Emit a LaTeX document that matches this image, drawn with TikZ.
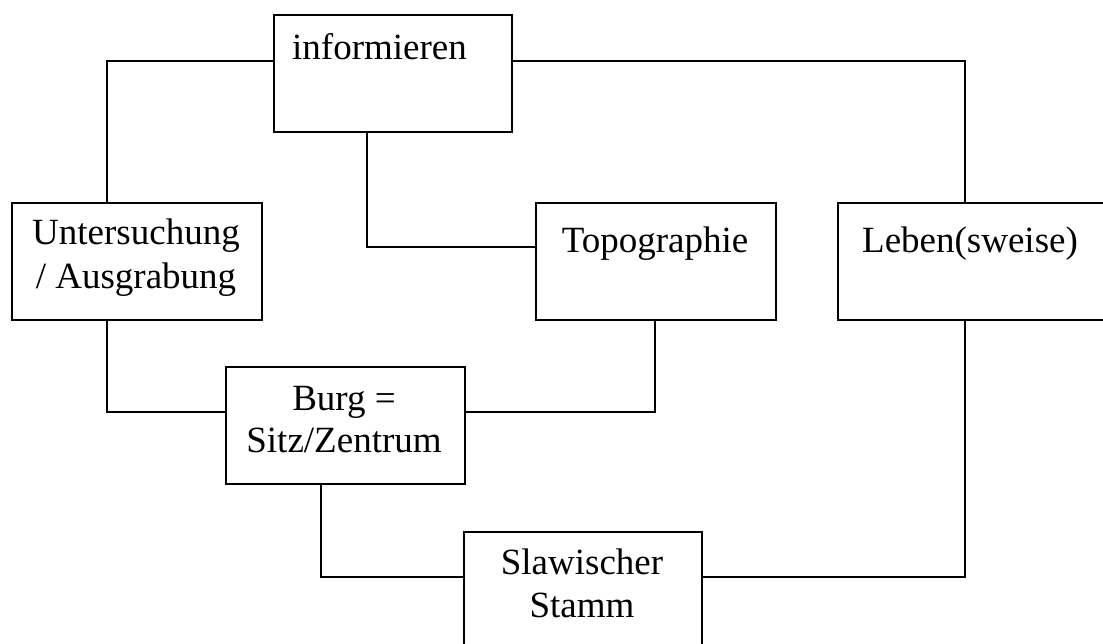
\documentclass[tikz,border=0pt]{standalone}
\usepackage{fontspec}
\setmainfont{Liberation Serif}
\begin{document}
\begin{tikzpicture}[x=1pt,y=-1pt,
  box/.style={draw=black,line width=1.8pt,rectangle,inner sep=0pt,anchor=north west},
  conn/.style={draw=black,line width=1.2pt},
  lbl/.style={font=\fontsize{37}{44}\selectfont,inner sep=0pt,align=center}]
\useasboundingbox (0,0) rectangle (1103,644);
% boxes
\node[box,minimum width=238pt,minimum height=117pt] (inf) at (273,14) {};
\node[box,minimum width=250pt,minimum height=117pt] (unt) at (11,202) {};
\node[box,minimum width=240pt,minimum height=117pt] (top) at (535,202) {};
\node[box,minimum width=268pt,minimum height=117pt] (leb) at (837,202) {};
\node[box,minimum width=239pt,minimum height=117pt] (burg) at (225,366) {};
\node[box,minimum width=238pt,minimum height=117pt] (sla) at (463,531) {};
% labels
\node[lbl,anchor=base west] (tinf) at (292,60) {informieren};
\node[lbl,anchor=base] (tunt) at (136,245) {Untersuchung};
\node[lbl,anchor=base] (tunt2) at (136,289) {/ Ausgrabung};
\node[lbl,anchor=base] (ttop) at (655,253) {Topographie};
\node[lbl,anchor=base] (tleb) at (970,253) {Leben(sweise)};
\node[lbl,anchor=base] (tburg) at (344,410) {Burg =};
\node[lbl,anchor=base] (tburg2) at (344,452) {Sitz/Zentrum};
\node[lbl,anchor=base] (tsla) at (582,574) {Slawischer};
\node[lbl,anchor=base] (tsla2) at (582,617) {Stamm};
% connectors
\draw[conn] (inf.west |- 0,61) -| (unt.north -| 107,0);
\draw[conn] (inf.east |- 0,61) -| (leb.north -| 965,0);
\draw[conn] (inf.south -| 367,0) |- (top.west |- 0,247);
\draw[conn] (unt.south -| 107,0) |- (burg.west |- 0,412);
\draw[conn] (top.south -| 655,0) |- (burg.east |- 0,412);
\draw[conn] (burg.south -| 321,0) |- (sla.west |- 0,577);
\draw[conn] (leb.south -| 965,0) |- (sla.east |- 0,577);
\end{tikzpicture}
\end{document}
